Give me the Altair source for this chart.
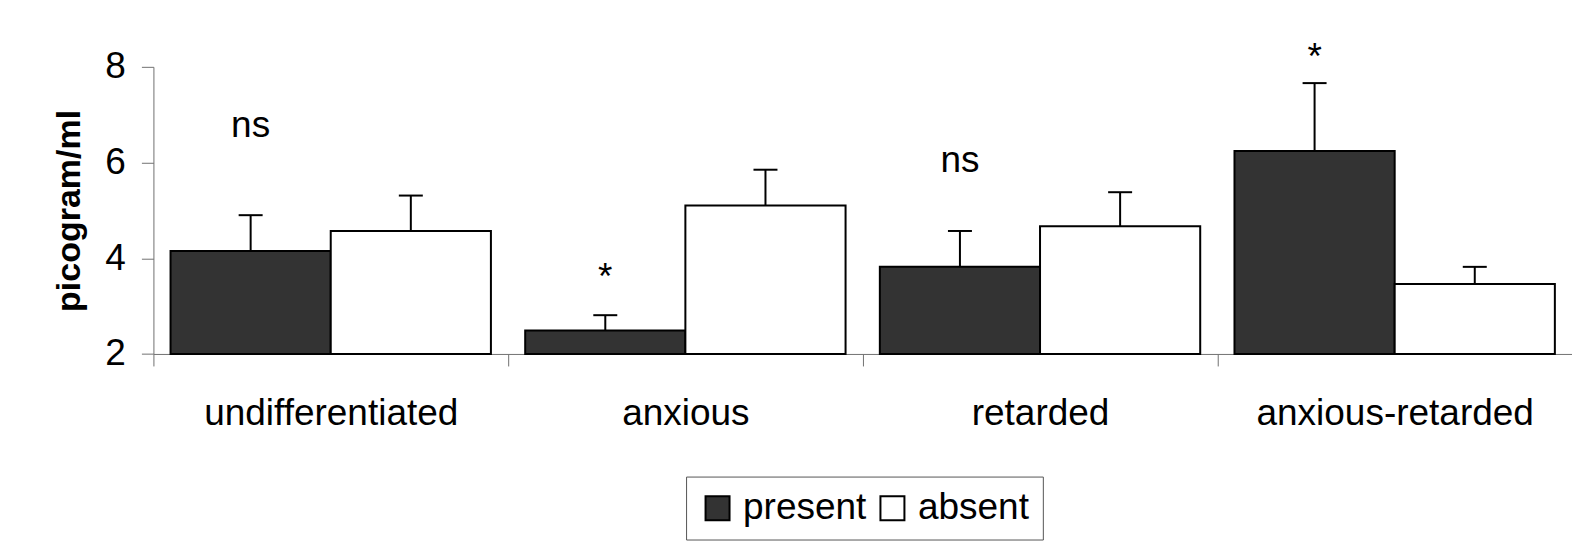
import altair as alt
import pandas as pd

categories = ["undifferentiated", "anxious", "retarded", "anxious-retarded"]
series_names = ["present", "absent"]
present = [4.15, 2.49, 3.82, 6.24]
present_err_top = [4.90, 2.81, 4.57, 7.66]
absent = [4.57, 5.10, 4.67, 3.46]
absent_err_top = [5.31, 5.85, 5.38, 3.82]
annotation_text = ["ns", "*", "ns", "*"]
annotation_y = [6.53, 3.36, 5.81, 7.95]
y_ticks = [2, 4, 6, 8]

rows = []
for i, c in enumerate(categories):
    rows.append({"category": c, "series": "present", "value": present[i], "err": present_err_top[i]})
    rows.append({"category": c, "series": "absent", "value": absent[i], "err": absent_err_top[i]})
df = pd.DataFrame(rows)

ann = pd.DataFrame({
    "category": categories,
    "series": ["present"] * 4,
    "label": annotation_text,
    "y": annotation_y,
})

FONT = "Liberation Sans"
GRAY = "#707070"

x_enc = alt.X(
    "category:N",
    sort=categories,
    scale=alt.Scale(domain=categories, paddingInner=0, paddingOuter=0),
    axis=alt.Axis(
        title=None, labelAngle=0, labelFontSize=37, labelColor="black",
        labelPadding=30, tickSize=12, tickBand="extent", labelLimit=1000,
        domainColor=GRAY, tickColor=GRAY, labelFont=FONT,
    ),
)
xoff_enc = alt.XOffset(
    "series:N",
    sort=series_names,
    scale=alt.Scale(domain=series_names, paddingInner=0, paddingOuter=0.107),
)
y_scale = alt.Scale(domain=[2, 8], zero=False, nice=False)

bars = alt.Chart(df).mark_bar(stroke="black", strokeWidth=2, opacity=1).encode(
    x=x_enc,
    xOffset=xoff_enc,
    y=alt.Y(
        "value:Q",
        scale=y_scale,
        axis=alt.Axis(
            title="picogram/ml", values=y_ticks, grid=False, tickSize=12,
            labelFontSize=37, labelPadding=16, labelColor="black", labelFont=FONT,
            titleFontSize=34, titleFontWeight="bold", titlePadding=18,
            titleFont=FONT, titleColor="black",
            domainColor=GRAY, tickColor=GRAY,
        ),
    ),
    y2=alt.datum(2),
    fill=alt.Fill(
        "series:N",
        sort=series_names,
        scale=alt.Scale(domain=series_names, range=["#333333", "#ffffff"]),
        legend=alt.Legend(
            title=None, orient="none", legendX=533, legendY=410,
            direction="horizontal", symbolType="square", symbolSize=576,
            symbolStrokeColor="black", symbolStrokeWidth=2, symbolOpacity=1,
            labelFontSize=37, labelFont=FONT, labelColor="black",
            labelOffset=7, columnPadding=7, padding=13,
            strokeColor="#555555", fillColor="white", cornerRadius=0,
        ),
    ),
)

err_line = alt.Chart(df).mark_rule(color="black", strokeWidth=2).encode(
    x=x_enc, xOffset=xoff_enc,
    y=alt.Y("value:Q", scale=y_scale),
    y2="err:Q",
)

err_cap = alt.Chart(df).mark_tick(color="black", thickness=2, size=24, opacity=1).encode(
    x=x_enc, xOffset=xoff_enc,
    y=alt.Y("err:Q", scale=y_scale),
)

labels = alt.Chart(ann).mark_text(
    fontSize=37, font=FONT, color="black", baseline="alphabetic", align="center"
).encode(
    x=x_enc, xOffset=xoff_enc,
    y=alt.Y("y:Q", scale=y_scale),
    text="label:N",
)

chart = alt.layer(bars, err_line, err_cap, labels).properties(
    width=1419.5,
    height=287.3,
    padding={"left": 145.5, "top": 58.7, "right": 0, "bottom": 190},
    autosize=alt.AutoSizeParams(type="none"),
    background="white",
).configure(font=FONT).configure_view(strokeWidth=0)

chart.save("out.html", embed_options={"renderer": "svg", "actions": False})
